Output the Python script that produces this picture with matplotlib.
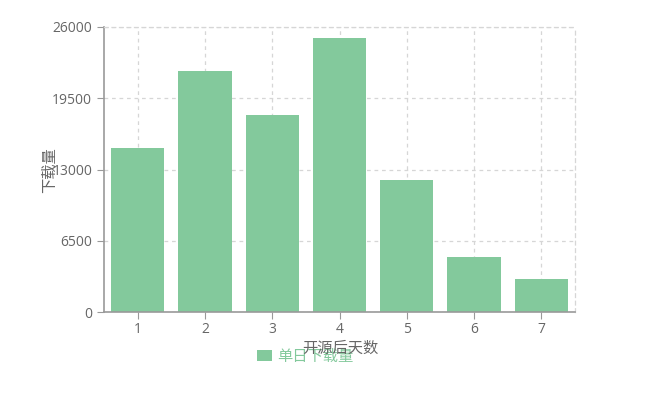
import matplotlib
matplotlib.use("Agg")
import matplotlib.pyplot as plt
import numpy as np

plt.rcParams['font.family'] = ['Noto Sans CJK SC', 'DejaVu Sans']

days = ['1', '2', '3', '4', '5', '6', '7']
downloads = [15000, 22000, 18000, 25000, 12000, 5000, 3000]
yticks = [0, 6500, 13000, 19500, 26000]

bar_color = '#83c99c'
axis_color = '#999999'
text_color = '#666666'
grid_color = '#d6d6d6'

fig = plt.figure(figsize=(6.46, 4.13), dpi=100)
ax = fig.add_axes([104 / 646, 1 - 312 / 413, 471 / 646, 285 / 413])

x = np.arange(len(days))
bars = ax.bar(x, downloads, width=0.79, color=bar_color, label='单日下载量', zorder=2)

ax.set_xlim(-0.5, len(days) - 0.5)
ax.set_ylim(0, 26000)
ax.set_xticks(x)
ax.set_xticklabels(days)
ax.set_yticks(yticks)

ax.set_axisbelow(True)
ax.grid(True, linestyle=(0, (3, 3)), color=grid_color, linewidth=0.9)

for side in ['top', 'right']:
    ax.spines[side].set_color(grid_color)
    ax.spines[side].set_linestyle((0, (3, 3)))
    ax.spines[side].set_linewidth(0.9)
for side in ['left', 'bottom']:
    ax.spines[side].set_color(axis_color)
    ax.spines[side].set_linewidth(1.2)

ax.tick_params(axis='both', colors=axis_color, labelcolor=text_color, labelsize=10, length=5)
ax.tick_params(axis='x', pad=2)
for lbl in ax.get_xticklabels() + ax.get_yticklabels():
    lbl.set_family(['Open Sans', 'DejaVu Sans'])

fig.text(50 / 646, 1 - 170 / 413, '下载量', rotation=90, ha='center', va='center',
         fontsize=11, color=text_color)
fig.text(340 / 646, 1 - 348 / 413, '开源后天数', ha='center', va='center',
         fontsize=11, color=text_color)

leg = ax.legend(loc='center', bbox_to_anchor=(305 / 646, 1 - 356 / 413),
                bbox_transform=fig.transFigure, frameon=False, fontsize=11,
                handlelength=1.0, handleheight=0.7, handletextpad=0.3,
                labelcolor=bar_color)

fig.savefig('out.png', dpi=100)
